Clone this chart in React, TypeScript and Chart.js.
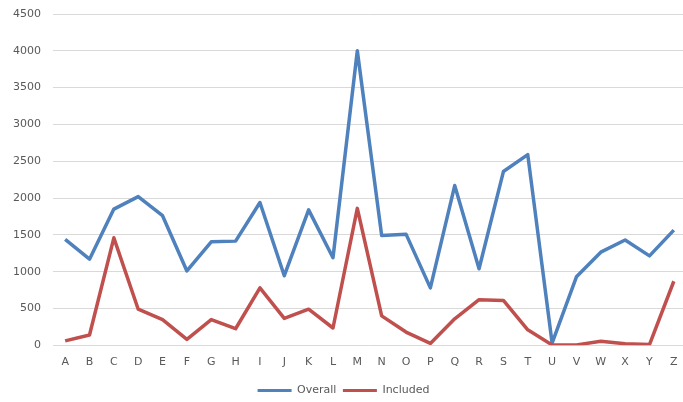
import React, { useEffect, useRef } from "react";
import { Chart, registerables } from "chart.js";

Chart.register(...registerables);

const categories = ["A","B","C","D","E","F","G","H","I","J","K","L","M","N","O","P","Q","R","S","T","U","V","W","X","Y","Z"];
const overall = [1440,1170,1850,2020,1760,1010,1405,1415,1940,945,1840,1190,4000,1490,1510,780,2170,1040,2360,2590,30,930,1265,1430,1215,1565];
const included = [60,140,1460,490,350,80,350,225,780,365,490,235,1860,400,180,25,360,620,610,210,5,5,55,20,10,870];
const seriesNames = ["Overall", "Included"];
const seriesColors = ["#4F81BD", "#C0504D"];

export default function App() {
  const ref = useRef<HTMLCanvasElement | null>(null);
  useEffect(() => {
    document.body.style.margin = "0";
    const ctx = ref.current!;
    const font = { family: "'DejaVu Sans', sans-serif", size: 11 };
    const chart = new Chart(ctx, {
      type: "line",
      data: {
        labels: categories,
        datasets: [overall, included].map((d, i) => ({
          label: seriesNames[i],
          data: d,
          order: 2 - i,
          borderColor: seriesColors[i],
          backgroundColor: seriesColors[i],
          borderWidth: 3.5,
          pointRadius: 0,
          tension: 0,
          borderJoinStyle: "round" as const,
        })),
      },
      options: {
        animation: false,
        responsive: false,
        maintainAspectRatio: false,
        layout: { padding: { top: 14, right: 4, left: 1, bottom: -4 } },
        plugins: {
          legend: {
            position: "bottom",
            labels: {
              font,
              color: "#595959",
              boxWidth: 34,
              boxHeight: 3,
              padding: 6.5,
              sort: (a: any, b: any) => a.datasetIndex - b.datasetIndex,
              generateLabels: (c: any) =>
                Chart.defaults.plugins.legend.labels.generateLabels(c).map((l: any) => ({ ...l, lineWidth: 0 })),
            },
          },
          tooltip: { enabled: false },
        },
        scales: {
          x: {
            offset: true,
            grid: { display: false, drawTicks: false },
            border: { display: false },
            ticks: { font, color: "#595959", padding: 10, autoSkip: false, maxRotation: 0 },
          },
          y: {
            min: 0,
            max: 4500,
            border: { display: false },
            grid: { color: "#d9d9d9", drawTicks: false, lineWidth: 1 },
            ticks: { stepSize: 500, font, color: "#595959", padding: 12, callback: (v: any) => String(v) },
            afterFit: (s: any) => { s.paddingTop = 0; s.paddingBottom = 0; },
          },
        },
      },
    });
    return () => chart.destroy();
  }, []);
  return (
    <div style={{ width: 683, height: 402, overflow: "hidden", background: "#fff" }}>
      <canvas ref={ref} width={690} height={402} style={{ width: 690, height: 402, display: "block" }} />
    </div>
  );
}
